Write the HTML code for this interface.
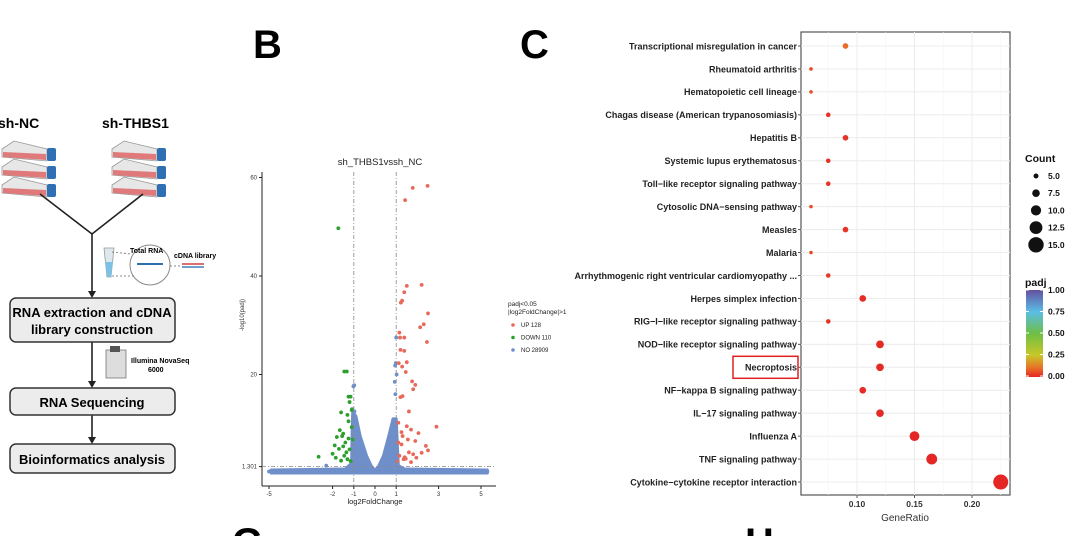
<!DOCTYPE html>
<html><head><meta charset="utf-8"><style>
body{margin:0;background:#fff;width:1080px;height:536px;overflow:hidden;position:relative;font-family:"Liberation Sans",sans-serif}
svg{position:absolute;left:0;top:0;overflow:hidden}
</style></head><body>
<svg id="s" width="1080" height="536" xmlns="http://www.w3.org/2000/svg" font-family="Liberation Sans, sans-serif">
<g>
<text x="-2" y="128" font-size="14" font-weight="bold">sh-NC</text>
<text x="102" y="128" font-size="14" font-weight="bold">sh-THBS1</text>
<g id="flasksL"></g>
<g id="flasksR"></g>
<g stroke="#222" stroke-width="1.6" fill="none">
<path d="M40 194 L92 234 L143 194"/>
<line x1="92" y1="234" x2="92" y2="292"/>
<line x1="92" y1="342" x2="92" y2="382"/>
<line x1="92" y1="415" x2="92" y2="438"/>
</g>
<g fill="#222"><path d="M88 291 L96 291 L92 298Z"/><path d="M88 381 L96 381 L92 388Z"/><path d="M88 437 L96 437 L92 444Z"/></g>
<path d="M104 248 L114 248 L111 277 L107 277Z" fill="#dde8ef" stroke="#999" stroke-width="0.8"/>
<path d="M105 262 L113 262 L111 277 L107 277Z" fill="#7cc1e4"/>
<circle cx="150" cy="265" r="20" fill="#fff" stroke="#888" stroke-width="1"/>
<line x1="137" y1="264" x2="163" y2="264" stroke="#2c6fb0" stroke-width="2"/>
<line x1="112" y1="252" x2="131" y2="254" stroke="#888" stroke-dasharray="2,2"/>
<line x1="112" y1="276" x2="134" y2="276" stroke="#888" stroke-dasharray="2,2"/>
<line x1="170" y1="266" x2="180" y2="266" stroke="#888" stroke-dasharray="2,2"/>
<line x1="182" y1="264" x2="204" y2="264" stroke="#d04040" stroke-width="1.5"/>
<line x1="182" y1="267" x2="204" y2="267" stroke="#4080c0" stroke-width="1.5"/>
<text x="130" y="253" font-size="7" font-weight="bold">Total RNA</text>
<text x="174" y="258" font-size="7" font-weight="bold">cDNA library</text>
<rect x="10" y="298" width="165" height="44" rx="6" fill="#ececec" stroke="#333" stroke-width="1.5"/>
<text x="92" y="317" font-size="13" font-weight="bold" text-anchor="middle">RNA extraction and cDNA</text>
<text x="92" y="334" font-size="13" font-weight="bold" text-anchor="middle">library construction</text>
<rect x="106" y="350" width="20" height="28" fill="#ddd" stroke="#777" stroke-width="0.8"/>
<rect x="110" y="346" width="10" height="6" fill="#555"/>
<text x="131" y="363" font-size="7" font-weight="bold">Illumina NovaSeq</text>
<text x="148" y="372" font-size="7" font-weight="bold">6000</text>
<rect x="10" y="388" width="165" height="27" rx="6" fill="#ececec" stroke="#333" stroke-width="1.5"/>
<text x="92" y="407" font-size="13" font-weight="bold" text-anchor="middle">RNA Sequencing</text>
<rect x="10" y="444" width="165" height="29" rx="6" fill="#ececec" stroke="#333" stroke-width="1.5"/>
<text x="92" y="464" font-size="13" font-weight="bold" text-anchor="middle">Bioinformatics analysis</text>
</g>
<text x="253" y="58" font-size="40" font-weight="bold">B</text>
<text x="520" y="58" font-size="40" font-weight="bold">C</text>
<text x="232" y="556" font-size="40" font-weight="bold">G</text>
<text x="745" y="556" font-size="40" font-weight="bold">H</text>
<g id="volcano"></g>
<g id="dot"></g>
</svg>
<script>
const NS="http://www.w3.org/2000/svg";
function mk(p,t,a,txt){const e=document.createElementNS(NS,t);for(const k in a)e.setAttribute(k,a[k]);if(txt!==undefined)e.textContent=txt;p.appendChild(e);return e;}
[["flasksL",0],["flasksR",110]].forEach(([id,dx])=>{const g=document.getElementById(id);
for(let i=0;i<3;i++){const y=145+i*18;
mk(g,"path",{d:`M${dx+2} ${y+4} L${dx+14} ${y-4} L${dx+47} ${y+4} L${dx+47} ${y+16} L${dx+2} ${y+12}Z`,fill:"#e7e7e7",stroke:"#999","stroke-width":0.8});
mk(g,"path",{d:`M${dx+3} ${y+7} L${dx+46} ${y+9} L${dx+46} ${y+15} L${dx+3} ${y+12}Z`,fill:"#e07a7a"});
mk(g,"rect",{x:dx+47,y:y+3,width:9,height:13,rx:2,fill:"#2f6fb3"});}});

// ===== Volcano data =====
const upLfc=[2.48,1.78,1.42,2.2,1.5,1.38,1.28,1.22,2.5,2.3,2.13,2.45,1.15,1.38,1.18,1.2,1.38,1.5,1.12,1.28,1.45,1.75,1.9,1.8,1.3,1.2,1.6,2.9,2.05,1.5,1.7,1.1,1.3,1.9,2.4,2.5,1.6,1.25,1.15,1.4,1.8,2.2,1.05,1.35,1.55,1.95,1.7,1.1,1.45,1.25];
const upVal=[58.3,57.9,55.4,38.2,38,36.7,35,34.6,32.4,30.2,29.6,26.6,28.5,27.5,27.5,25,24.8,22.5,22.3,21.6,20.5,18.6,17.9,17,15.6,15.4,12.5,9.4,8.1,9.5,8.8,10.2,7.5,6.5,5.5,4.6,4.2,5.8,3.5,3.2,3.8,4.1,2.4,2.8,6.8,3.1,2.2,6.2,2.9,8.3];
const downLfc=[-1.73,-1.45,-1.33,-1.15,-1.25,-1.2,-1.6,-1.3,-1.25,-1.66,-1.5,-1.55,-1.8,-1.9,-2.0,-2.66,-1.4,-1.1,-1.2,-1.35,-1.45,-1.15,-1.7,-1.05,-1.3,-1.6,-1.1,-1.5,-1.25,-1.85];
const downVal=[49.7,20.6,20.6,15.5,15.5,14.4,12.3,11.8,10.5,8.7,8,7.5,7.3,5.6,3.9,3.3,6.2,9.3,4.8,4.2,3.5,2.4,4.9,6.8,2.8,2.5,12.8,5.4,7,3.1];
const noLfc=[-0.98,-1.02,-1.08,-0.97,0.98,0.95,1.0,1.02,0.93,0.96,-5.0,5.3,5.1,-2.3];
const noVal=[17.8,17.6,13,12.5,22.3,21.8,27.5,20,18.5,16,0.3,0.3,0.3,1.5];
const xTicks=[-5,-2,-1,0,1,3,5];
const yTicks=[1.301,20,40,60];
const vX=v=>375+v*21.2, vY=v=>473-v*4.925;
const V=document.getElementById("volcano");
mk(V,"line",{x1:262,y1:172,x2:262,y2:486,stroke:"#222","stroke-width":1});
mk(V,"line",{x1:262,y1:486,x2:496,y2:486,stroke:"#222","stroke-width":1});
xTicks.forEach(t=>{mk(V,"line",{x1:vX(t),y1:486,x2:vX(t),y2:489,stroke:"#222"});const e=mk(V,"text",{x:vX(t),y:496,"font-size":6,"text-anchor":"middle",fill:"#333"},t);
});
yTicks.forEach(t=>{mk(V,"line",{x1:259,y1:vY(t),x2:262,y2:vY(t),stroke:"#222"});const e=mk(V,"text",{x:257,y:vY(t)+2,"font-size":6,"text-anchor":"end",fill:"#333"},t);
});
const cloud=[[-1.05,12.5],[-0.9,11.5],[-0.7,7.5],[-0.4,3.5],[-0.15,1.2],[0,0.6],[0.15,1.2],[0.4,3.5],[0.65,7.5],[0.85,11],[1.0,11],[1.05,6],[1.1,1.5],[1.4,0.8],[5.3,0.6],[5.3,0],[-4.9,0],[-4.9,0.6],[-1.4,0.8],[-1.1,2],[-1.08,8]];
mk(V,"polygon",{points:cloud.map(p=>vX(p[0])+","+vY(p[1])).join(" "),fill:"#6f8fcb",stroke:"#6f8fcb","stroke-width":3,"stroke-linejoin":"round"});
function pts(xs,ys,c,name){xs.forEach((x,i)=>{const e=mk(V,"circle",{cx:vX(x),cy:vY(ys[i]),r:1.9,fill:c});
});}
pts(noLfc,noVal,"#6f8fcb","no-point");
pts(upLfc,upVal,"#e8685a","up-point");
pts(downLfc,downVal,"#2ca02c","down-point");
[-1,1].forEach(t=>mk(V,"line",{x1:vX(t),y1:172,x2:vX(t),y2:486,stroke:"#888","stroke-dasharray":"4,2,1,2","stroke-width":0.8}));
mk(V,"line",{x1:262,y1:vY(1.301),x2:496,y2:vY(1.301),stroke:"#888","stroke-dasharray":"4,2,1,2","stroke-width":0.8});
mk(V,"text",{x:380,y:165,"font-size":9.5,"text-anchor":"middle",fill:"#222"},"sh_THBS1vssh_NC");
mk(V,"text",{x:375,y:504,"font-size":7.5,"text-anchor":"middle",fill:"#222"},"log2FoldChange");
mk(V,"text",{x:244,y:315,"font-size":6,"text-anchor":"middle",fill:"#333",transform:"rotate(-90 244 315)"},"-log10(padj)");
mk(V,"text",{x:508,y:306,"font-size":6.5,fill:"#222"},"padj<0.05");
mk(V,"text",{x:508,y:314,"font-size":6.5,fill:"#222"},"|log2FoldChange|>1");
[["UP 128","#e8685a"],["DOWN 110","#2ca02c"],["NO 28909","#6f8fcb"]].forEach((l,i)=>{const y=325+i*12.5;
const c=mk(V,"circle",{cx:513,cy:y,r:1.8,fill:l[1]});
mk(V,"text",{x:521,y:y+2.2,"font-size":6,fill:"#222"},l[0]);});

// ===== Dot plot data =====
const terms=["Transcriptional misregulation in cancer","Rheumatoid arthritis","Hematopoietic cell lineage","Chagas disease (American trypanosomiasis)","Hepatitis B","Systemic lupus erythematosus","Toll\u2212like receptor signaling pathway","Cytosolic DNA\u2212sensing pathway","Measles","Malaria","Arrhythmogenic right ventricular cardiomyopathy ...","Herpes simplex infection","RIG\u2212I\u2212like receptor signaling pathway","NOD\u2212like receptor signaling pathway","Necroptosis","NF\u2212kappa B signaling pathway","IL\u221217 signaling pathway","Influenza A","TNF signaling pathway","Cytokine\u2212cytokine receptor interaction"];
const geneRatio=[0.09,0.06,0.06,0.075,0.09,0.075,0.075,0.06,0.09,0.06,0.075,0.105,0.075,0.12,0.12,0.105,0.12,0.15,0.165,0.225];
const counts=[6,4,4,5,6,5,5,4,6,4,5,7,5,8,8,7,8,10,11,15];
const padj=[0.1,0.05,0.05,0.02,0.02,0.02,0.02,0.05,0.02,0.05,0.03,0.01,0.02,0.005,0.005,0.01,0.005,0.002,0.001,0.0001];
const gTicks=[0.10,0.15,0.20];
const sizeTicks=[5.0,7.5,10.0,12.5,15.0];
const cbTicks=[1.00,0.75,0.50,0.25,0.00];
const dX=v=>857+(v-0.1)*1150, dY=i=>46+i*22.95, dR=c=>0.52*c-0.3;
function col(p){const stops=[[0,[228,38,36]],[0.1,[232,110,40]],[0.25,[200,200,40]],[0.5,[110,190,70]],[0.75,[90,190,230]],[1,[100,80,160]]];
for(let i=1;i<stops.length;i++)if(p<=stops[i][0]){const a=stops[i-1],b=stops[i],t=(p-a[0])/(b[0]-a[0]);return "rgb("+a[1].map((v,k)=>Math.round(v+(b[1][k]-v)*t)).join(",")+")";}return "rgb(100,80,160)";}
const D=document.getElementById("dot");
mk(D,"rect",{x:801,y:32,width:209,height:463,fill:"#fff",stroke:"#555","stroke-width":1.2});
gTicks.concat([0.075,0.125,0.175,0.225]).forEach(t=>{if(dX(t)<1010)mk(D,"line",{x1:dX(t),y1:32,x2:dX(t),y2:495,stroke:gTicks.includes(t)?"#ececec":"#f5f5f5","stroke-width":gTicks.includes(t)?1:0.6});});
terms.forEach((t,i)=>{mk(D,"line",{x1:801,y1:dY(i),x2:1010,y2:dY(i),stroke:"#ececec"});mk(D,"line",{x1:798,y1:dY(i),x2:801,y2:dY(i),stroke:"#555"});
const e=mk(D,"text",{x:797,y:dY(i)+3.3,"font-size":9,"font-weight":"bold","text-anchor":"end",fill:"#222"},t);
});
terms.forEach((t,i)=>{const c=mk(D,"circle",{cx:dX(geneRatio[i]),cy:dY(i),r:dR(counts[i]),fill:col(padj[i])});
});
const ni=terms.indexOf("Necroptosis");
const hb=mk(D,"rect",{x:733,y:dY(ni)-11,width:65,height:22,fill:"none",stroke:"#e02020","stroke-width":1.5});

gTicks.forEach(t=>{mk(D,"line",{x1:dX(t),y1:495,x2:dX(t),y2:498,stroke:"#555"});const e=mk(D,"text",{x:dX(t),y:507,"font-size":8.5,"font-weight":"bold","text-anchor":"middle",fill:"#333"},t.toFixed(2));
});
mk(D,"text",{x:905,y:521,"font-size":10,"text-anchor":"middle",fill:"#333"},"GeneRatio");
mk(D,"text",{x:1025,y:162,"font-size":10.5,"font-weight":"bold",fill:"#111"},"Count");
sizeTicks.forEach((s,i)=>{const y=176+i*17.2;const c=mk(D,"circle",{cx:1036,cy:y,r:dR(s)+0.2,fill:"#111"});

mk(D,"text",{x:1048,y:y+3,"font-size":8.5,"font-weight":"bold",fill:"#111"},s.toFixed(1));});
mk(D,"text",{x:1025,y:286,"font-size":10.5,"font-weight":"bold",fill:"#111"},"padj");
const defs=mk(D,"defs",{});const lg=mk(defs,"linearGradient",{id:"cb",x1:0,y1:1,x2:0,y2:0});
[0,0.1,0.25,0.5,0.75,1].forEach(o=>mk(lg,"stop",{offset:o,"stop-color":col(o)}));
const cb=mk(D,"rect",{x:1026,y:290,width:17,height:87,fill:"url(#cb)"});
cbTicks.forEach(t=>{const y=290+(1-t)*86;mk(D,"text",{x:1048,y:y+3,"font-size":8.5,"font-weight":"bold",fill:"#111"},t.toFixed(2));
mk(D,"line",{x1:1026,y1:y,x2:1029,y2:y,stroke:"#fff"});mk(D,"line",{x1:1040,y1:y,x2:1043,y2:y,stroke:"#fff"});});
</script>
</body></html>
